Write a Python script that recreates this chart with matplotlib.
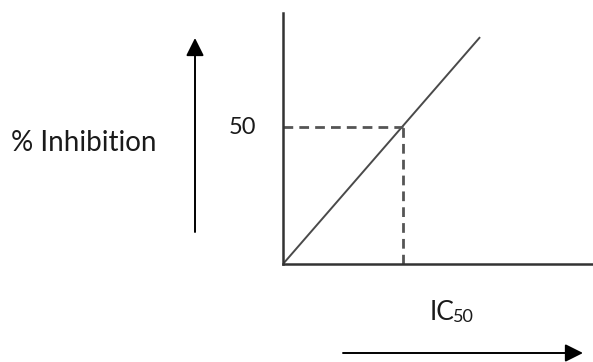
import matplotlib
matplotlib.use("Agg")
import matplotlib.pyplot as plt

plt.rcParams['font.family'] = ['Lato', 'DejaVu Sans']

# data (arbitrary units)
conc = [0, 1.64]
inhibition = [0, 82.8]
ic50 = 1.0
half = 50

W, H = 593, 362
fig = plt.figure(figsize=(W / 100, H / 100), dpi=100)
fig.patch.set_facecolor('white')

# plot box in pixel units: x 283..593, y 13..264 (from top)
ax = fig.add_axes([283 / W, (H - 264) / H, (W - 283) / W, (264 - 13) / H])
ax.set_xlim(0, 2.58)
ax.set_ylim(0, 91.6)
ax.plot(conc, inhibition, color='#4a4a4a', lw=1.4, solid_capstyle='butt')
ax.plot([0, ic50], [half, half], color='#555555', lw=2, ls=(0, (3.5, 2.2)))
ax.plot([ic50, ic50], [0, half], color='#555555', lw=2, ls=(0, (3.5, 2.2)))
for s in ['top', 'right']:
    ax.spines[s].set_visible(False)
for s in ['left', 'bottom']:
    ax.spines[s].set_color('#333333')
    ax.spines[s].set_linewidth(1.8)
ax.set_xticks([])
ax.set_yticks([])
ax.patch.set_alpha(0)

# "50" label on the y side
ax.annotate('50', xy=(0, half), xytext=(-41, -1), textcoords='offset pixels',
            ha='center', va='center', fontsize=17, color='#1a1a1a')

# labels and arrows in figure pixels
def fy(y):
    return H - y

fig.text(84 / W, fy(143) / H, '% Inhibition', ha='center', va='center',
         fontsize=20, color='#1a1a1a')
fig.text(454 / W, fy(312) / H, 'IC', ha='right', va='center',
         fontsize=19, color='#1a1a1a')
fig.text(453 / W, fy(317) / H, '50', ha='left', va='center',
         fontsize=13, color='#1a1a1a')

fig.add_artist(matplotlib.patches.FancyArrowPatch(
    (195 / W, fy(232) / H), (195 / W, fy(38) / H), transform=fig.transFigure,
    arrowstyle='-|>,head_length=5.4,head_width=2.7', color='black', lw=1.4,
    shrinkA=0, shrinkB=0, mutation_scale=2))
fig.add_artist(matplotlib.patches.FancyArrowPatch(
    (343 / W, fy(353) / H), (583 / W, fy(353) / H), transform=fig.transFigure,
    arrowstyle='-|>,head_length=5.4,head_width=2.7', color='black', lw=1.4,
    shrinkA=0, shrinkB=0, mutation_scale=2))

fig.savefig('out.png', dpi=100, facecolor='white')
